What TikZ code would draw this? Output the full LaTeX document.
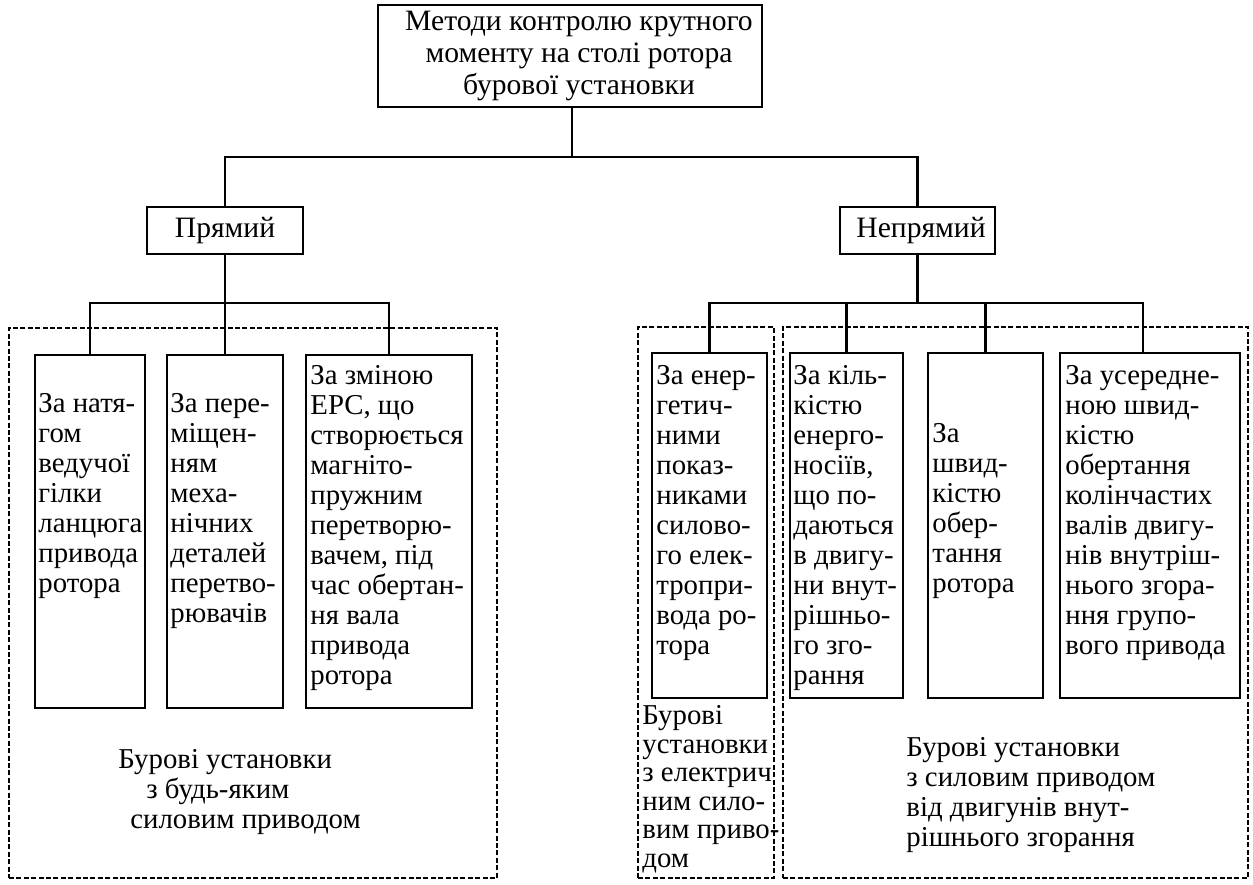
\documentclass[tikz,border=0pt]{standalone}
\usepackage{fontspec}
\setmainfont{Liberation Serif}
\usetikzlibrary{fit}
\begin{document}
\begin{tikzpicture}[x=0.5pt,y=-0.5pt,
  box/.style={draw,line width=1.2pt,inner sep=0pt},
  grp/.style={draw,line width=0.9pt,dash pattern=on 2.5pt off 1.2pt,inner sep=0pt},
  txt/.style={anchor=north west,inner sep=0pt,align=left,font=\fontsize{14.4}{15}\selectfont},
  ctxt/.style={inner sep=0pt,align=center,font=\fontsize{14.8}{15.8}\selectfont},
  conn/.style={line width=1.1pt}]
\useasboundingbox (0,0) rectangle (1253,884);
% groups
\node[grp, fit={(9,328) (497,878)}] (gL) {};
\node[grp, fit={(638,327) (774,878)}] (gE) {};
\node[grp, fit={(783,327) (1248,878)}] (gD) {};
% top
\node[box, fit={(378,5) (762,107)}] (top) {};
\node[ctxt] (toptxt) at (579,56) {Методи контролю крутного\\моменту на столі ротора\\бурової установки};
\node[box, fit={(147,207) (303,254)}] (pr) {};
\node[ctxt] (prtxt) at (225,231) {\strut Прямий};
\node[box, fit={(840,207) (995,254)}] (np) {};
\node[ctxt] (nptxt) at (921,231) {\strut Непрямий};
% left boxes
\node[box, fit={(35,355) (145,708)}] (l1) {};
\node[txt] (l1t) at (38,391) {\strut За натя-\\гом\\ведучої\\гілки\\ланцюга\\привода\\ротора};
\node[box, fit={(167,355) (283,708)}] (l2) {};
\node[txt] (l2t) at (170,391) {\strut За пере-\\міщен-\\ням\\меха-\\нічних\\деталей\\перетво-\\рювачів};
\node[box, fit={(306,355) (472,708)}] (l3) {};
\node[txt] (l3t) at (310,363) {\strut За зміною\\ЕРС, що\\створюється\\магніто-\\пружним\\перетворю-\\вачем, під\\час обертан-\\ня вала\\привода\\ротора};
% right boxes
\node[box, fit={(652,353) (767,698)}] (r1) {};
\node[txt] (r1t) at (656,363) {\strut За енер-\\гетич-\\ними\\показ-\\никами\\силово-\\го елек-\\тропри-\\вода ро-\\тора};
\node[box, fit={(790,353) (903,698)}] (r2) {};
\node[txt] (r2t) at (793,363) {\strut За кіль-\\кістю\\енерго-\\носіїв,\\що по-\\даються\\в двигу-\\ни внут-\\рішньо-\\го зго-\\рання};
\node[box, fit={(928,353) (1043,698)}] (r3) {};
\node[txt] (r3t) at (932,421) {\strut За\\швид-\\кістю\\обер-\\тання\\ротора};
\node[box, fit={(1060,353) (1240,698)}] (r4) {};
\node[txt] (r4t) at (1065,363) {\strut За усередне-\\ною швид-\\кістю\\обертання\\колінчастих\\валів двигу-\\нів внутріш-\\нього згора-\\ння групо-\\вого привода};
% group labels
\node[txt] (gLt) at (118,747) {\strut Бурові установки\\\hspace*{14pt}з будь-яким\\\hspace*{6pt}силовим приводом};
\node[txt, font=\fontsize{14.4}{14.3}\selectfont] (gEt) at (642,704) {\strut Бурові\\установки\\з електрич\\ним сило-\\вим приво-\\дом};
\node[txt] (gDt) at (906,735) {\strut Бурові установки\\з силовим приводом\\від двигунів внут-\\рішнього згорання};
% connectors
\coordinate (bus0) at (572,157);
\coordinate (busL) at (226,303);
\coordinate (busR) at (917,303);
\draw[conn] (top.south -| bus0) -- (bus0);
\draw[conn] (pr.north) |- (bus0) -| (np.north);
\draw[conn] (pr.south) -- (pr.south |- busL);
\draw[conn] (l1.north) |- (busL) -| (l3.north);
\draw[conn] (l2.north) -- (l2.north |- busL);
\draw[conn] (np.south) -- (np.south |- busR);
\draw[conn] (r1.north) |- (busR) -| ([xshift=-3.5pt]r4.north);
\draw[conn] (r2.north) -- (r2.north |- busR);
\draw[conn] (r3.north) -- (r3.north |- busR);
\end{tikzpicture}
\end{document}
